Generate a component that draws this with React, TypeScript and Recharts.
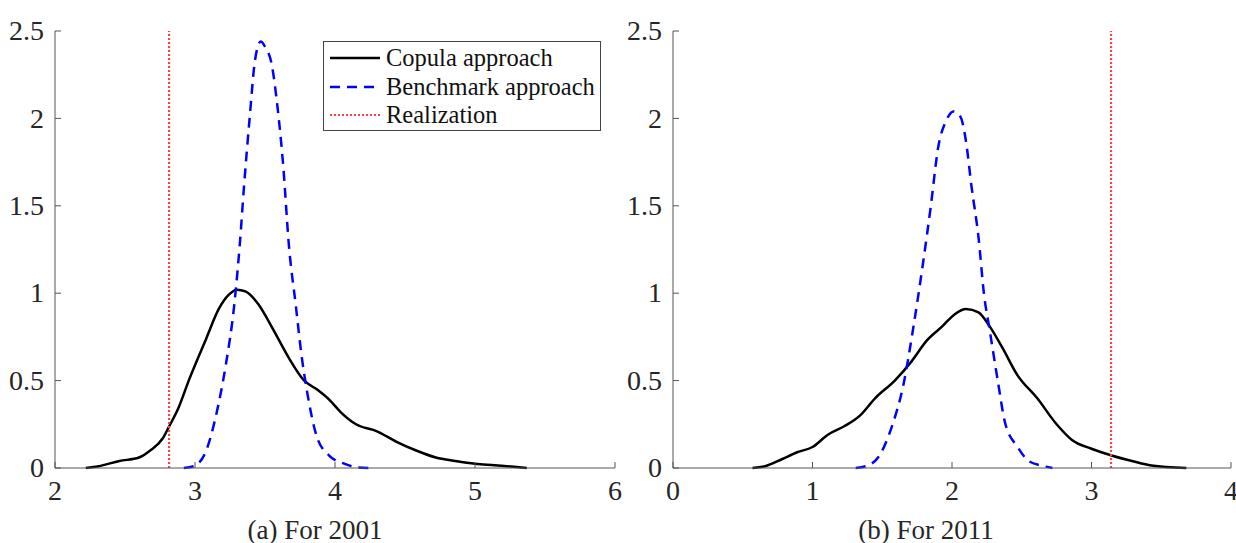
import React from "react";
import { LineChart, Line, XAxis, YAxis, ReferenceLine } from "recharts";

// (a) 2001 — density estimates
const copula2001X = [2.22, 2.31, 2.46, 2.6, 2.68, 2.77, 2.81, 2.88, 2.96, 3.08, 3.17, 3.24, 3.3, 3.36, 3.45, 3.56, 3.67, 3.78, 3.87, 3.96, 4.04, 4.15, 4.3, 4.44, 4.58, 4.72, 4.86, 5.0, 5.14, 5.37];
const copula2001Y = [0, 0.01, 0.04, 0.06, 0.1, 0.17, 0.23, 0.34, 0.51, 0.74, 0.91, 0.99, 1.02, 1.01, 0.94, 0.79, 0.63, 0.5, 0.45, 0.39, 0.32, 0.25, 0.21, 0.15, 0.1, 0.06, 0.04, 0.024, 0.016, 0];
const bench2001X = [2.92, 2.99, 3.08, 3.15, 3.22, 3.28, 3.32, 3.35, 3.39, 3.43, 3.47, 3.5, 3.55, 3.59, 3.63, 3.67, 3.72, 3.76, 3.8, 3.87, 3.96, 4.07, 4.15, 4.24];
const bench2001Y = [0, 0.01, 0.1, 0.3, 0.59, 0.93, 1.28, 1.61, 2.0, 2.34, 2.44, 2.41, 2.3, 2.06, 1.73, 1.28, 0.93, 0.65, 0.44, 0.18, 0.07, 0.024, 0.004, 0];
const realization2001 = 2.815;

// (b) 2011
const copula2011X = [0.57, 0.66, 0.78, 0.89, 1.0, 1.11, 1.23, 1.34, 1.45, 1.59, 1.71, 1.82, 1.93, 2.02, 2.1, 2.19, 2.27, 2.36, 2.47, 2.61, 2.75, 2.86, 3.0, 3.15, 3.29, 3.43, 3.68];
const copula2011Y = [0, 0.01, 0.05, 0.09, 0.12, 0.19, 0.24, 0.3, 0.4, 0.5, 0.61, 0.73, 0.81, 0.88, 0.91, 0.89, 0.81, 0.69, 0.53, 0.4, 0.25, 0.16, 0.11, 0.07, 0.04, 0.014, 0];
const bench2011X = [1.31, 1.38, 1.47, 1.57, 1.65, 1.72, 1.79, 1.85, 1.9, 1.96, 2.01, 2.06, 2.1, 2.14, 2.19, 2.23, 2.27, 2.33, 2.38, 2.47, 2.55, 2.64, 2.72];
const bench2011Y = [0, 0.01, 0.06, 0.24, 0.47, 0.79, 1.16, 1.51, 1.83, 1.99, 2.04, 2.01, 1.87, 1.61, 1.32, 0.99, 0.79, 0.49, 0.26, 0.12, 0.04, 0.014, 0];
const realization2011 = 3.14;

const yTicks = [0, 0.5, 1, 1.5, 2, 2.5];
const xTicks2001 = [2, 3, 4, 5, 6];
const xTicks2011 = [0, 1, 2, 3, 4];

const seriesNames = ["Copula approach", "Benchmark approach", "Realization"];

const toPoints = (xs: number[], ys: number[]) => xs.map((x, i) => ({ x, y: ys[i] }));

const FONT = "Liberation Serif";
const AXIS = "#555";
const TEXT = "#262626";
const RED = "#ff4040";

const XTick = (props: any) => (
  <text x={props.x} y={props.y} dy="0.71em" textAnchor="middle" fill={TEXT} fontSize={28} fontFamily={FONT}>
    {props.payload.value}
  </text>
);

const YTick = (props: any) => (
  <text x={props.x} y={props.y} dy="0.33em" textAnchor="end" fill={TEXT} fontSize={28} fontFamily={FONT}>
    {props.payload.value}
  </text>
);

function LegendBox() {
  const styles = [
    { stroke: "#000", dash: undefined, w: 2.5 },
    { stroke: "#0000ff", dash: "10 7", w: 2.5 },
    { stroke: RED, dash: "2 2", w: 2 },
  ];
  return (
    <div
      style={{
        position: "absolute",
        left: 323,
        top: 41,
        width: 276,
        height: 88,
        border: "1px solid #444",
        background: "#fff",
        fontFamily: FONT,
        fontSize: 24.5,
        color: "#111",
      }}
    >
      {seriesNames.map((name, i) => (
        <div key={name} style={{ position: "absolute", left: 5, top: 2 + i * 28.5, height: 28, display: "flex", alignItems: "center", whiteSpace: "nowrap" }}>
          <svg width={52} height={10} style={{ marginRight: 5 }}>
            <line x1={1} y1={5} x2={51} y2={5} stroke={styles[i].stroke} strokeWidth={styles[i].w} strokeDasharray={styles[i].dash} />
          </svg>
          <span style={{ lineHeight: "28px", fontFamily: FONT }}>{name}</span>
        </div>
      ))}
    </div>
  );
}

function Panel({ copula, bench, realization, xTicks, width, marginRight }: any) {
  return (
    <LineChart width={width} height={543} margin={{ top: 31, right: marginRight, left: 0, bottom: 35 }}>
      <XAxis
        type="number"
        dataKey="x"
        domain={[xTicks[0], xTicks[xTicks.length - 1]]}
        ticks={xTicks}
        allowDataOverflow
        height={40}
        stroke={AXIS}
        tickSize={-6}
        tickMargin={18}
        tick={<XTick />}
      />
      <YAxis
        type="number"
        domain={[0, 2.5]}
        ticks={yTicks}
        width={55}
        stroke={AXIS}
        tickSize={-6}
        tickMargin={17}
        tick={<YTick />}
      />
      <Line data={copula} dataKey="y" type="monotone" stroke="#000" strokeWidth={2.5} dot={false} isAnimationActive={false} />
      <Line data={bench} dataKey="y" type="monotone" stroke="#0000ff" strokeWidth={2.5} strokeDasharray="10 7" dot={false} isAnimationActive={false} />
      <ReferenceLine x={realization} stroke={RED} strokeWidth={2.2} strokeDasharray="2 2" />
    </LineChart>
  );
}

export default function App() {
  return (
    <div style={{ position: "absolute", left: 0, top: 0, width: 1236, height: 543, background: "#fff", fontFamily: FONT }}>
      <div style={{ position: "absolute", left: 0, top: 0 }}>
        <Panel
          copula={toPoints(copula2001X, copula2001Y)}
          bench={toPoints(bench2001X, bench2001Y)}
          realization={realization2001}
          xTicks={xTicks2001}
          width={640}
          marginRight={25}
        />
      </div>
      <div style={{ position: "absolute", left: 618, top: 0 }}>
        <Panel
          copula={toPoints(copula2011X, copula2011Y)}
          bench={toPoints(bench2011X, bench2011Y)}
          realization={realization2011}
          xTicks={xTicks2011}
          width={618}
          marginRight={5}
        />
      </div>
      <LegendBox />
      <div style={{ position: "absolute", left: 215, top: 517, width: 200, textAlign: "center", fontSize: 27, lineHeight: "26px", color: TEXT }}>
        (a) For 2001
      </div>
      <div style={{ position: "absolute", left: 826, top: 517, width: 200, textAlign: "center", fontSize: 27, lineHeight: "26px", color: TEXT }}>
        (b) For 2011
      </div>
    </div>
  );
}
